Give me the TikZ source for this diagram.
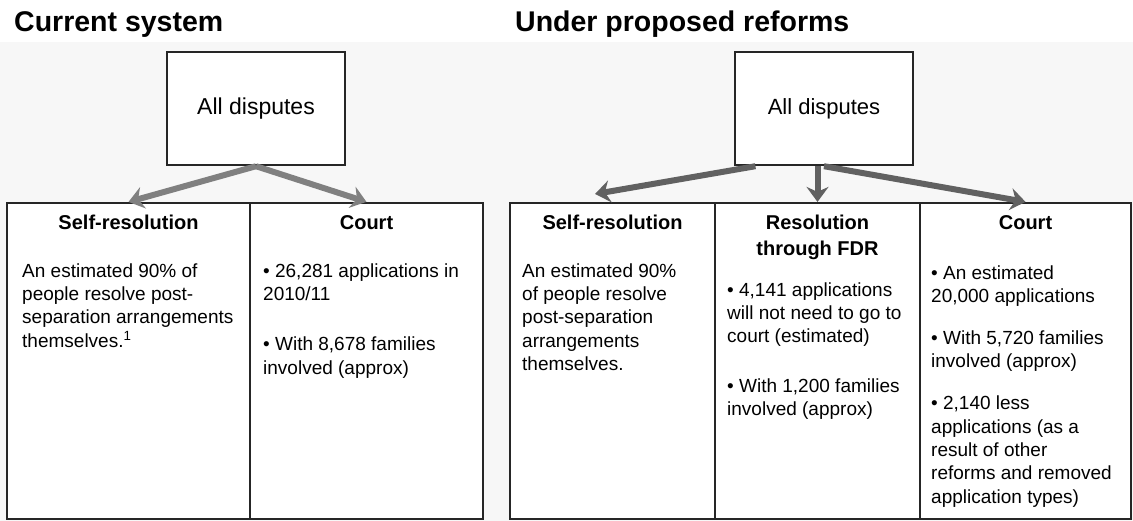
\documentclass[tikz,border=0pt]{standalone}
\usepackage{fontspec}
\setmainfont{Liberation Sans}
\usetikzlibrary{arrows.meta,calc}
\begin{document}
\begin{tikzpicture}[x=1pt,y=-1pt,
  box/.style={draw=black!85, line width=2.4pt, fill=white, inner sep=0pt,
    minimum width=178pt, minimum height=113pt},
  cell/.style={draw=black!85, line width=2.2pt, fill=white, inner sep=0pt, minimum height=316pt},
  head/.style={font=\bfseries\fontsize{20}{26}\selectfont, anchor=north, inner sep=0pt, align=center},
  body/.style={font=\fontsize{19}{23.3}\selectfont, anchor=north west, inner sep=0pt, align=left},
  title/.style={font=\bfseries\fontsize{28.5}{34}\selectfont, anchor=base west, inner sep=0pt},
  bigarrow/.style={line width=6pt, -{Stealth[length=15pt,width=22pt,inset=5pt]}},
]
\useasboundingbox (0,0) rectangle (1133,521);
\fill[gray!6] (0,42) rectangle (1133,521);

% titles
\node[title] (T1) at (14,32) {Current system};
\node[title] (T2) at (515,32) {Under proposed reforms};

% top boxes
\node[box, font=\fontsize{23}{27}\selectfont] (A1) at (256,108.5) {All disputes};
\node[box, font=\fontsize{22}{26}\selectfont] (A2) at (824,108.5) {All disputes};

% cells
\node[cell, minimum width=243pt] (S1) at (128.5,361) {};
\node[cell, minimum width=233pt] (C1) at (366.5,361) {};
\node[cell, minimum width=205pt] (S2) at (612.5,361) {};
\node[cell, minimum width=205pt] (F2) at (817.5,361) {};
\node[cell, minimum width=211pt] (C2) at (1025.5,361) {};

% headings
\node[head] (hS1) at (128.5,210.8) {\strut Self-resolution};
\node[head] (hC1) at (366.5,210.8) {\strut Court};
\node[head] (hS2) at (612.5,210.8) {\strut Self-resolution};
\node[head] (hF2) at (817.5,210.8) {\strut Resolution\\through FDR};
\node[head] (hC2) at (1025.5,210.8) {\strut Court};

% body texts
\node[body] (tS1) at (22,260.7) {\strut An estimated 90\% of\\people resolve post-\\separation arrangements\\themselves.\textsuperscript{1}};
\node[body] (tC1) at (263,260.7) {\strut • 26,281 applications in\\2010/11\\[27pt]• With 8,678 families\\involved (approx)};
\node[body] (tS2) at (522,260.7) {\strut An estimated 90\%\\of people resolve\\post-separation\\arrangements\\themselves.};
\node[body] (tF2) at (727,279.7) {\strut • 4,141 applications\\will not need to go to\\court (estimated)\\[26.5pt]• With 1,200 families\\involved (approx)};
\node[body] (tC2) at (931,262.7) {\strut • An estimated\\20,000 applications\\[18.7pt]• With 5,720 families\\involved (approx)\\[18.7pt]• 2,140 less\\applications (as a\\result of other\\reforms and removed\\application types)};

% arrows
\coordinate (tipS2) at (595,194);
\draw[bigarrow, black!50] (A1.south) -- (S1.north);
\draw[bigarrow, black!50] (A1.south) -- (C1.north);
\draw[bigarrow, black!62] ($(A2.south west)!0.12!(A2.south east)$) -- (tipS2);
\draw[bigarrow, black!62] (A2.south -| F2.north) -- (F2.north);
\draw[bigarrow, black!62] (A2.south) -- (C2.north);
\end{tikzpicture}
\end{document}
